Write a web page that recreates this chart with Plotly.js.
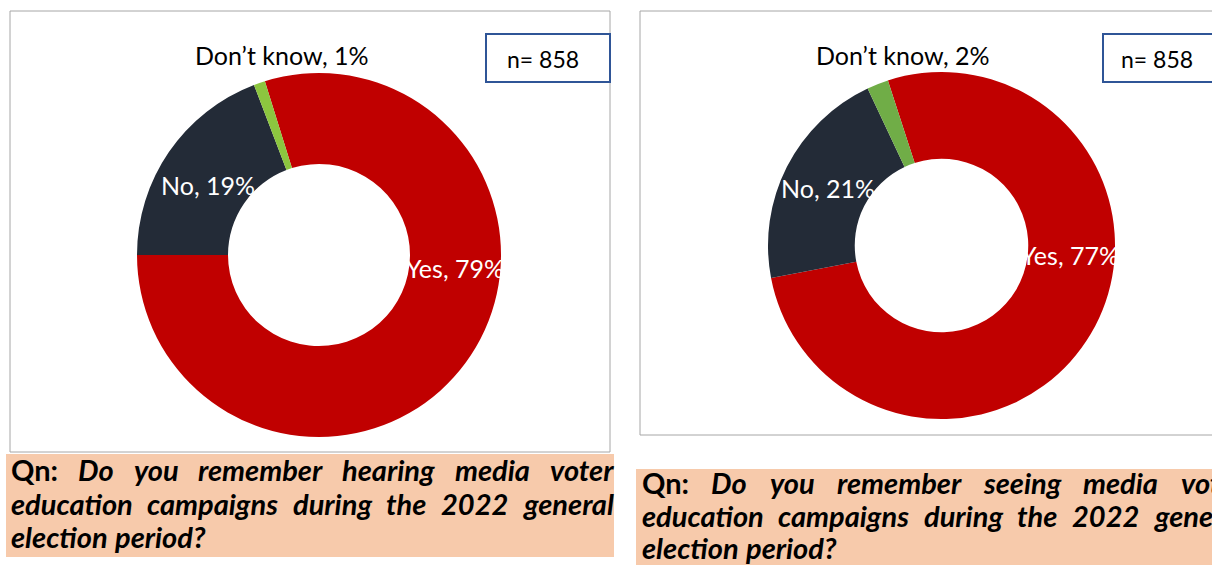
<!DOCTYPE html>
<html>
<head>
<meta charset="utf-8">
<script src="https://cdn.plot.ly/plotly-3.0.1.min.js"></script>
<style>
html,body{margin:0;padding:0;background:#fff;}
#chart{width:1212px;height:565px;}
</style>
</head>
<body>
<div id="chart"></div>
<script>
// ---- data ----
const categories = ['Yes', 'No', 'Don\u2019t know'];
const hearingValues = [79, 19, 1];
const seeingValues = [77, 21, 2];
const sampleSizes = [858, 858];
const questionLead = 'Qn:';
const hearingQuestionLines = [
  'Do you remember hearing media voter',
  'education campaigns during the 2022 general',
  'election period?'
];
const seeingQuestionLines = [
  'Do you remember seeing media voter',
  'education campaigns during the 2022 general',
  'election period?'
];

// ---- helpers ----
const W = 1212, H = 565;
const X = p => p / W;
const Y = p => 1 - p / H;
const FONT = 'Lato';
const RED = '#c00000', NAVY = '#232b37';

const canvas = document.createElement('canvas');
const ctx = canvas.getContext('2d');
function measure(word, italic, size) {
  ctx.font = (italic ? 'italic ' : '') + 'bold ' + size + 'px ' + FONT;
  return ctx.measureText(word).width;
}

function questionAnnotations(lines, left, right, centers, size) {
  const anns = [];
  lines.forEach((line, li) => {
    let words = line.split(' ').map(w => ({t: w, it: true}));
    if (li === 0) words.unshift({t: questionLead, it: false});
    const widths = words.map(w => measure(w.t, w.it, size));
    const total = widths.reduce((a, b) => a + b, 0);
    const justify = li < lines.length - 1;
    const gap = justify ? (right - left - total) / (words.length - 1) : measure(' ', true, size);
    let x = left;
    words.forEach((w, i) => {
      anns.push({
        xref: 'paper', yref: 'paper', x: X(x), y: Y(centers[li]),
        xanchor: 'left', yanchor: 'middle', showarrow: false, borderpad: 0,
        text: w.it ? '<b><i>' + w.t + '</i></b>' : '<b>' + w.t + '</b>',
        font: {family: FONT, size: size, color: '#000'}
      });
      x += widths[i] + gap;
    });
  });
  return anns;
}

function sliceLabel(values, i) {
  return categories[i] + ', ' + values[i] + '%';
}

const data = [
  {
    type: 'pie', labels: categories, values: hearingValues,
    hole: 0.5, sort: false, direction: 'clockwise', rotation: -17.3,
    marker: {colors: [RED, NAVY, '#8cc63f'], line: {width: 0}},
    textinfo: 'none', hoverinfo: 'none', showlegend: false,
    domain: {x: [X(137), X(501)], y: [Y(437), Y(73)]}
  },
  {
    type: 'pie', labels: categories, values: seeingValues,
    hole: 0.5, sort: false, direction: 'clockwise', rotation: -18,
    marker: {colors: [RED, NAVY, '#70ad47'], line: {width: 0}},
    textinfo: 'none', hoverinfo: 'none', showlegend: false,
    domain: {x: [X(768), X(1115)], y: [Y(419), Y(72)]}
  }
];

const shapes = [
  // chart panels
  {type: 'rect', xref: 'paper', yref: 'paper', x0: X(10), x1: X(610), y0: Y(452), y1: Y(11),
   line: {color: '#a6a6a6', width: 1}, fillcolor: 'rgba(0,0,0,0)', layer: 'below'},
  {type: 'rect', xref: 'paper', yref: 'paper', x0: X(640), x1: X(1260), y0: Y(435), y1: Y(11),
   line: {color: '#a6a6a6', width: 1}, fillcolor: 'rgba(0,0,0,0)', layer: 'below'},
  // n boxes
  {type: 'rect', xref: 'paper', yref: 'paper', x0: X(486), x1: X(610), y0: Y(82), y1: Y(34),
   line: {color: '#2f5597', width: 2}, fillcolor: '#ffffff'},
  {type: 'rect', xref: 'paper', yref: 'paper', x0: X(1103), x1: X(1260), y0: Y(82), y1: Y(34),
   line: {color: '#2f5597', width: 2}, fillcolor: '#ffffff'},
  // question boxes
  {type: 'rect', xref: 'paper', yref: 'paper', x0: X(6), x1: X(614), y0: Y(557), y1: Y(454),
   line: {width: 0}, fillcolor: '#f7caab'},
  {type: 'rect', xref: 'paper', yref: 'paper', x0: X(636), x1: X(1260), y0: Y(580), y1: Y(469),
   line: {width: 0}, fillcolor: '#f7caab'}
];

function lab(text, x, y, color) {
  return {xref: 'paper', yref: 'paper', x: X(x), y: Y(y), xanchor: 'center', yanchor: 'middle',
    showarrow: false, text: text, font: {family: FONT, size: 25, color: color}};
}

let annotations = [
  lab(sliceLabel(hearingValues, 2), 282, 55, '#000'),
  lab(sliceLabel(hearingValues, 1), 208, 185, '#fff'),
  lab(sliceLabel(hearingValues, 0), 455, 268, '#fff'),
  lab(sliceLabel(seeingValues, 2), 903, 55, '#000'),
  lab(sliceLabel(seeingValues, 1), 828, 188, '#fff'),
  lab(sliceLabel(seeingValues, 0), 1070, 255, '#fff'),
  {xref: 'paper', yref: 'paper', x: X(543), y: Y(59), xanchor: 'center', yanchor: 'middle',
   showarrow: false, text: 'n= ' + sampleSizes[0], font: {family: FONT, size: 23, color: '#000'}},
  {xref: 'paper', yref: 'paper', x: X(1157), y: Y(59), xanchor: 'center', yanchor: 'middle',
   showarrow: false, text: 'n= ' + sampleSizes[1], font: {family: FONT, size: 23, color: '#000'}}
];
annotations = annotations
  .concat(questionAnnotations(hearingQuestionLines, 10, 612, [469, 503, 536], 29))
  .concat(questionAnnotations(seeingQuestionLines, 641, 1243, [482, 515, 547], 29));

const layout = {
  width: W, height: H,
  margin: {l: 0, r: 0, t: 0, b: 0},
  paper_bgcolor: '#ffffff', plot_bgcolor: '#ffffff',
  showlegend: false,
  shapes: shapes,
  annotations: annotations
};

Plotly.newPlot('chart', data, layout, {displayModeBar: false, staticPlot: true});
</script>
</body>
</html>
